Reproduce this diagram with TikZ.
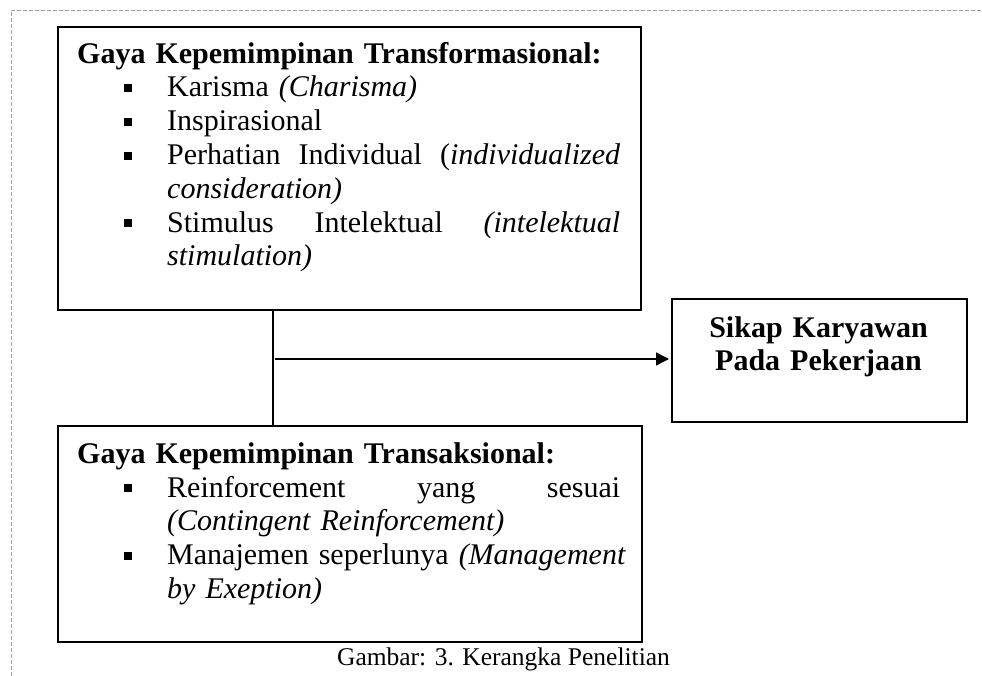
\documentclass[tikz,border=0pt]{standalone}
\usepackage{fontspec}
\setmainfont{Liberation Serif}
\usetikzlibrary{arrows.meta}
\newcommand{\sqbul}{\rule[5pt]{8pt}{8pt}}
\newcommand{\itm}[1]{\hspace*{47pt}\makebox[43pt][l]{\sqbul}#1}
\newcommand{\cnt}{\hspace*{90pt}}
\newcommand{\jline}[1]{\makebox[453pt][s]{#1}}
\newcommand{\firstrule}{\rule{0pt}{24pt}}
\begin{document}
\begin{tikzpicture}[x=1pt,y=-1pt,
  boxnode/.style={draw, line width=1.6pt, anchor=north west, inner sep=0pt},
  txtnode/.style={anchor=north west, inner sep=0pt, text width=580pt, align=left,
    font=\fontsize{30}{33.8}\selectfont},
  conn/.style={line width=1.3pt}]
\useasboundingbox (0,0) rectangle (982,676);
\draw[gray!75, line width=0.8pt, dash pattern=on 4pt off 2pt] (11,676) -- (11,10) -- (982,10);

\node[boxnode, minimum width=583pt, minimum height=283pt] (b1) at (57,26) {};
\node[boxnode, minimum width=584pt, minimum height=216pt] (b2) at (57,425) {};
\node[boxnode, minimum width=295pt, minimum height=123pt] (b3) at (671,298) {};

\node[txtnode] (t1) at (77,39) {\firstrule\textbf{Gaya Kepemimpinan Transformasional:}\\
\itm{Karisma \textit{(Charisma)}}\\
\itm{Inspirasional}\\
\itm{\jline{Perhatian \hfill Individual \hfill (\textit{individualized}}}\\
\cnt\textit{consideration)}\\
\itm{\jline{Stimulus \hfill Intelektual \hfill \textit{(intelektual}}}\\
\cnt\textit{stimulation)}};

\node[txtnode] (t2) at (77,439) {\firstrule\textbf{Gaya Kepemimpinan Transaksional:}\\
\itm{\jline{Reinforcement \hfill yang \hfill sesuai}}\\
\cnt\textit{(Contingent Reinforcement)}\\
\itm{\jline{Manajemen \hfill seperlunya \hfill \textit{(Management}}}\\
\cnt\textit{by Exeption)}};

\node[anchor=north, inner sep=0pt, text width=290pt, align=center,
  font=\bfseries\fontsize{30}{33}\selectfont] (t3) at (818.5,313)
  {\firstrule Sikap Karyawan\\Pada Pekerjaan};

\node[anchor=base, inner sep=0pt, font=\fontsize{25.5}{30}\selectfont] (cap) at (503.5,665)
  {Gambar: 3. Kerangka Penelitian};

\coordinate (vx) at (273,0);
\coordinate (as) at (275,359);
\draw[conn] (vx |- b1.south) -- (vx |- b2.north);
\draw[conn, -{Triangle[length=13pt,width=13pt]}, shorten >=2pt] (as) -- (as -| b3.west);
\end{tikzpicture}
\end{document}
